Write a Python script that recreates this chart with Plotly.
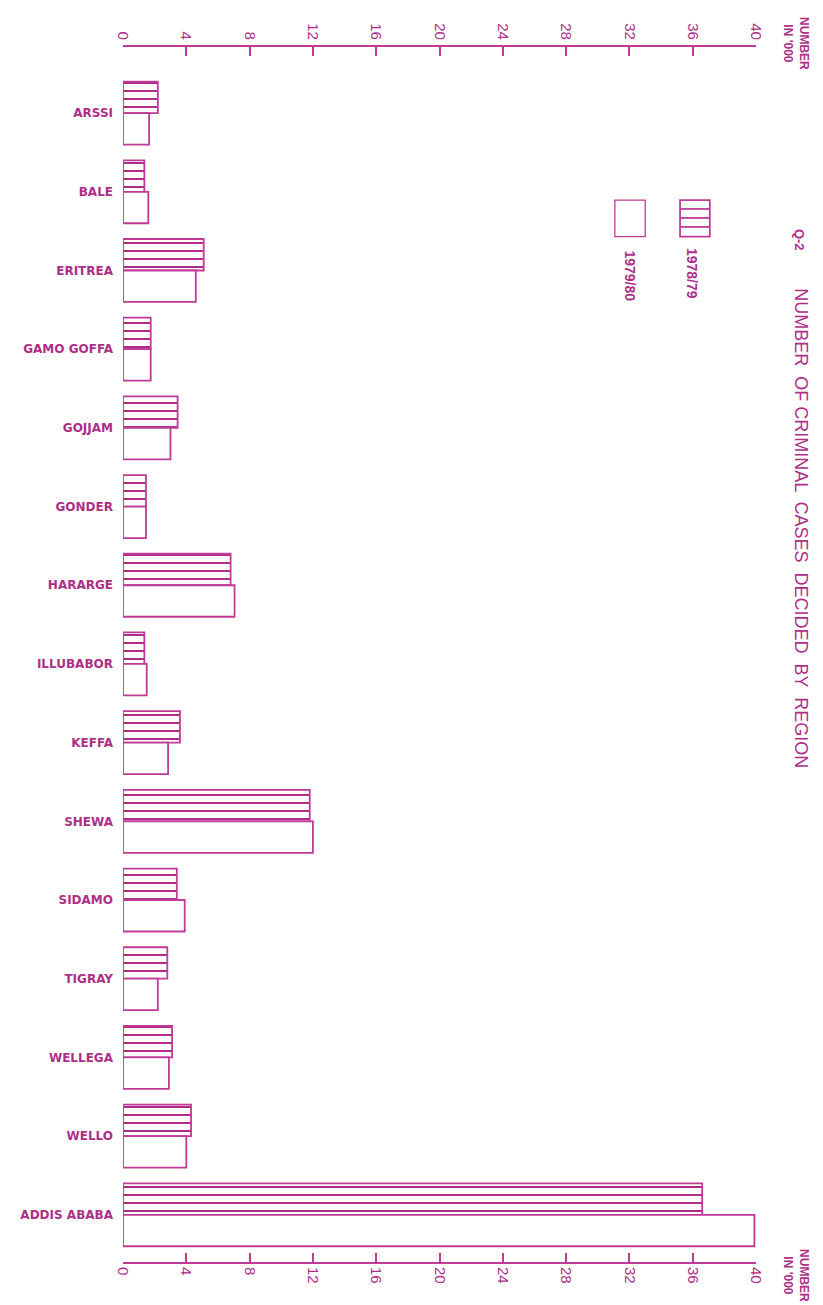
import plotly.graph_objects as go

regions = ["ARSSI", "BALE", "ERITREA", "GAMO GOFFA", "GOJJAM", "GONDER", "HARARGE",
           "ILLUBABOR", "KEFFA", "SHEWA", "SIDAMO", "TIGRAY", "WELLEGA", "WELLO", "ADDIS ABABA"]
cases_1978_79 = [2.2, 1.35, 5.1, 1.75, 3.45, 1.45, 6.8, 1.35, 3.6, 11.8, 3.4, 2.8, 3.1, 4.3, 36.6]
cases_1979_80 = [1.65, 1.6, 4.6, 1.75, 3.0, 1.45, 7.05, 1.5, 2.85, 12.0, 3.9, 2.2, 2.9, 4.0, 39.9]
tick_values = [0, 4, 8, 12, 16, 20, 24, 28, 32, 36, 40]
tick_labels = ["0", "4", "8", "12", "16", "20", "24", "28", "32", "36", "40"]

LINE = "#c03a98"
TEXT = "#ad2f88"
FONT = "Liberation Sans"

fig = go.Figure()
fig.add_trace(go.Bar(
    y=regions, x=cases_1978_79, orientation="h", name="1978/79",
    marker=dict(color="white", line=dict(color=LINE, width=1.8),
                pattern=dict(shape="-", fgcolor="#b02a88", fgopacity=1, bgcolor="white",
                             size=8, solidity=0.25)),
))
fig.add_trace(go.Bar(
    y=regions, x=cases_1979_80, orientation="h", name="1979/80",
    marker=dict(color="white", line=dict(color=LINE, width=1.8)),
))
# dummy invisible trace so the bottom axis is drawn
fig.add_trace(go.Scatter(x=[0], y=[regions[0]], xaxis="x2", mode="markers",
                         marker=dict(opacity=0), hoverinfo="skip", showlegend=False))

axis_common = dict(
    range=[0, 40], tickvals=tick_values, ticktext=tick_labels, tickangle=90,
    showline=True, linecolor=LINE, linewidth=1.8, ticks="inside", ticklen=9,
    tickcolor=LINE, tickwidth=1.8, showgrid=False, zeroline=False, automargin=False,
    tickfont=dict(family=FONT, size=15, color=TEXT),
)

# page body has an 8px default margin, so the figure is sized to fit the window
fig.update_layout(
    width=815, height=1297,
    paper_bgcolor="white", plot_bgcolor="white",
    margin=dict(l=115, r=67, t=39, b=43, autoexpand=False),
    barmode="group", bargap=0.2, bargroupgap=0.0,
    showlegend=False,
    xaxis=dict(side="top", anchor="y", **axis_common),
    xaxis2=dict(side="bottom", overlaying="x", anchor="y", matches="x", **axis_common),
    yaxis=dict(type="category", categoryorder="array", categoryarray=regions,
               range=[14.6, -0.84], showline=False, ticks="", showgrid=False,
               automargin=False,
               tickfont=dict(family="DejaVu Sans", size=12, color=TEXT, weight="bold"),
               ticklabelstandoff=9),
)

# legend swatches
hx0, hx1 = 0.880, 0.927
ox0, ox1 = 0.777, 0.825
sy0, sy1 = 0.844, 0.874
fig.add_shape(type="rect", xref="paper", yref="paper", x0=hx0, x1=hx1, y0=sy0, y1=sy1,
              line=dict(color=LINE, width=1.8), fillcolor="white")
for yy in [0.8667, 0.8593, 0.8519]:
    fig.add_shape(type="line", xref="paper", yref="paper", x0=hx0, x1=hx1, y0=yy, y1=yy,
                  line=dict(color=LINE, width=1.8))
fig.add_shape(type="rect", xref="paper", yref="paper", x0=ox0, x1=ox1, y0=sy0, y1=sy1,
              line=dict(color=LINE, width=1.3), fillcolor="white")

ann = []
ann.append(dict(x=0.899, y=0.814, text="<b>1978/79</b>", textangle=90, size=14))
ann.append(dict(x=0.801, y=0.812, text="<b>1979/80</b>", textangle=90, size=14))
ann.append(dict(x=1.070, y=0.841, text="<b>Q-2</b>", textangle=90, size=13))
ann.append(dict(x=1.071, y=0.604, text="NUMBER  OF CRIMINAL  CASES  DECIDED  BY  REGION",
                textangle=90, size=18))
ann.append(dict(x=1.062, y=1.003, text="<b>NUMBER<br>IN '000</b>", textangle=90, size=12))
ann.append(dict(x=1.062, y=-0.011, text="<b>NUMBER<br>IN '000</b>", textangle=90, size=12))
for a in ann:
    fig.add_annotation(x=a["x"], y=a["y"], xref="paper", yref="paper", text=a["text"],
                       textangle=a["textangle"], showarrow=False,
                       font=dict(family=FONT, size=a.get("size", 13), color=TEXT),
                       xanchor="center", yanchor="middle")

fig.write_html("out.html")
